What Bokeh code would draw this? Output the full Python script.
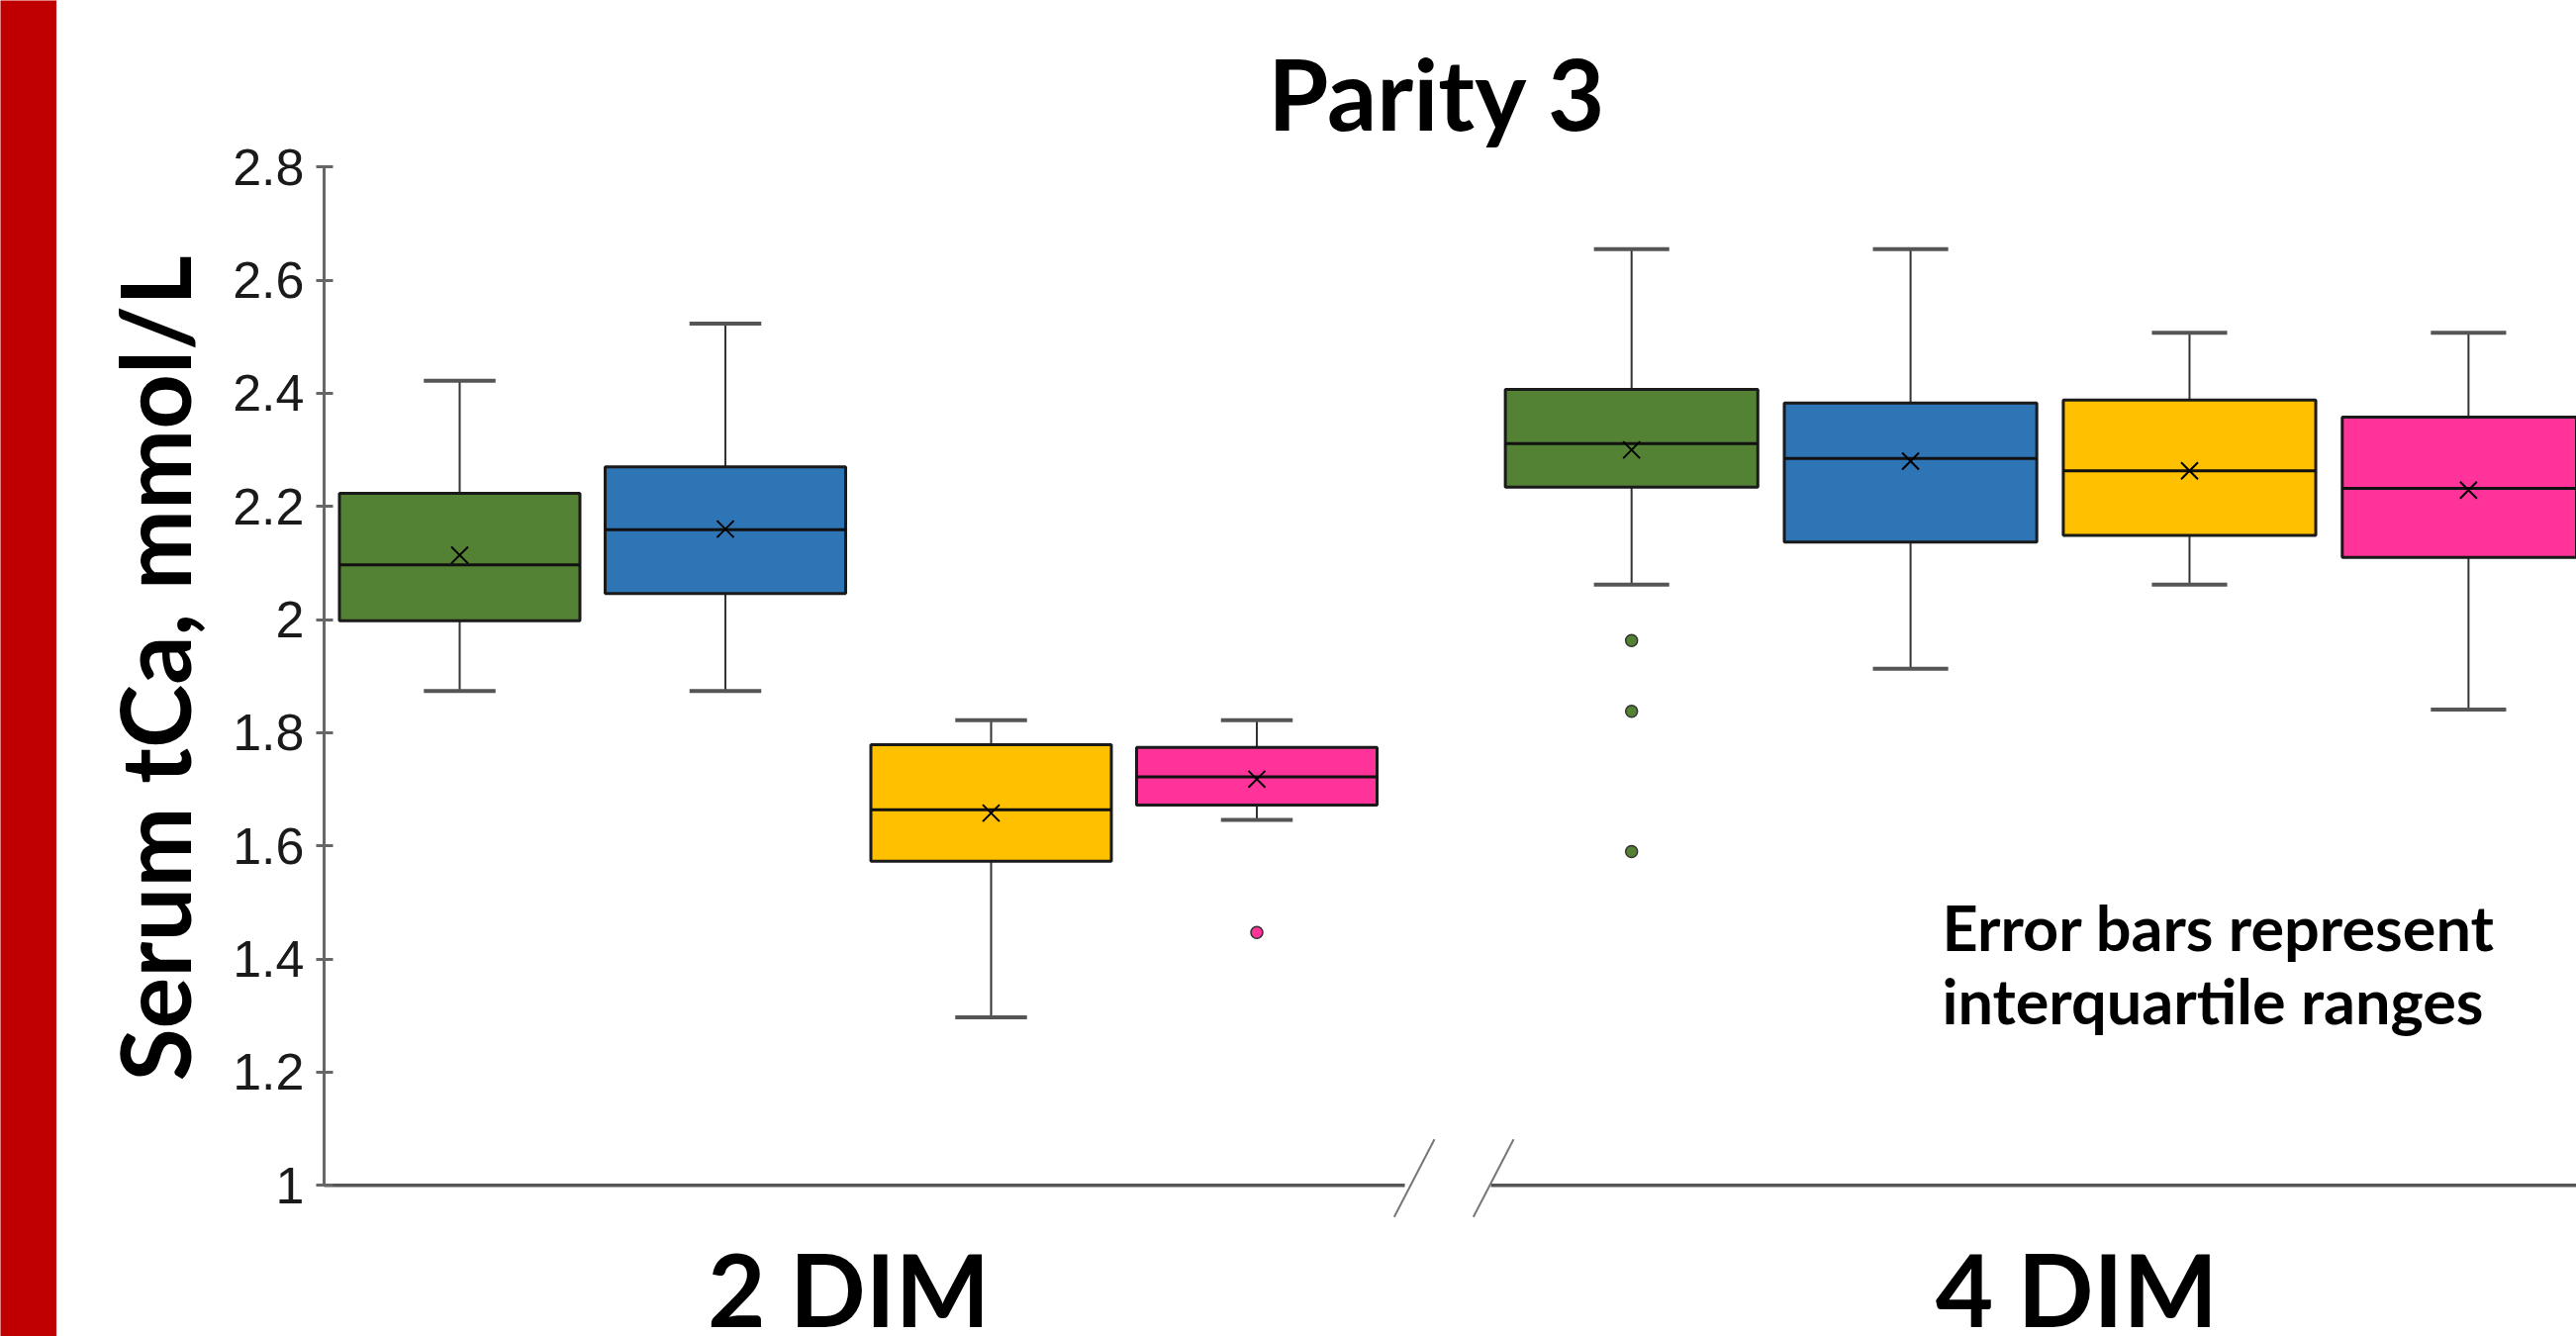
from bokeh.plotting import figure
from bokeh.layouts import row
from bokeh.models import Range1d, FixedTicker, ColumnDataSource
from bokeh.embed import file_html
from bokeh.resources import INLINE
from bokeh.core.properties import value

# ---------------- data ----------------
GROUP_LABELS = ["2 DIM", "4 DIM"]
SERIES_COLORS = ["#548235", "#2E75B6", "#FFC000", "#FF3399"]
SLOTS = [1, 2, 3, 4]

DIM2_LOWER = [1.874, 1.874, 1.297, 1.646]
DIM2_Q1 = [1.998, 2.046, 1.573, 1.672]
DIM2_MEDIAN = [2.097, 2.159, 1.664, 1.722]
DIM2_Q3 = [2.223, 2.270, 1.779, 1.774]
DIM2_UPPER = [2.422, 2.523, 1.822, 1.822]
DIM2_MEAN = [2.114, 2.160, 1.658, 1.718]
DIM2_OUTLIERS = [[], [], [], [1.447]]

DIM4_LOWER = [2.062, 1.913, 2.062, 1.841]
DIM4_Q1 = [2.234, 2.137, 2.149, 2.110]
DIM4_MEDIAN = [2.311, 2.285, 2.263, 2.232]
DIM4_Q3 = [2.407, 2.383, 2.388, 2.358]
DIM4_UPPER = [2.655, 2.655, 2.507, 2.507]
DIM4_MEAN = [2.300, 2.280, 2.263, 2.229]
DIM4_OUTLIERS = [[1.963, 1.838, 1.590], [], [], []]

Y_TICKS = [1.0, 1.2, 1.4, 1.6, 1.8, 2.0, 2.2, 2.4, 2.6, 2.8]
Y_TICK_LABELS = ["1", "1.2", "1.4", "1.6", "1.8", "2", "2.2", "2.4", "2.6", "2.8"]

TITLE = "Parity 3"
Y_LABEL = "Serum tCa, mmol/L"
NOTE_LINES = ["Error bars represent", "interquartile ranges"]

# ---------------- layout / style ----------------
BOX_W = 0.905
CAP_HALF = 0.135
AXIS_X = 0.4898
LEFT_END = 4.557
RIGHT_START = 4.881
H = 1350
FONT = "Lato"

bar = figure(width=57, height=H, output_backend="svg", toolbar_location=None,
             x_axis_location=None, y_axis_location=None,
             min_border=0, background_fill_color="#C00000",
             border_fill_color="#C00000", outline_line_color=None)
bar.grid.visible = False
bar.x_range = Range1d(0, 1)
bar.y_range = Range1d(0, 1)

p = figure(width=2546, height=H, output_backend="svg", toolbar_location=None,
           x_range=Range1d(0.4823, 8.9665), y_range=Range1d(0.7329, 3.0943),
           x_axis_location=None,
           min_border_left=268, min_border_right=0,
           min_border_top=0, min_border_bottom=0)
p.extra_x_ranges = {"dim4": Range1d(-3.6938, 4.3871)}
p.grid.visible = False
p.outline_line_color = None
p.background_fill_color = "white"
p.border_fill_color = "white"

ya = p.yaxis[0]
ya.ticker = FixedTicker(ticks=Y_TICKS)
ya.major_label_overrides = dict(zip(Y_TICKS, Y_TICK_LABELS))
ya.minor_tick_line_color = None
ya.axis_line_color = None
ya.major_tick_line_color = "#666666"
ya.major_tick_line_width = 3
ya.major_tick_out = 6
ya.major_tick_in = 11
ya.major_label_standoff = 12
ya.major_label_text_font = "Liberation Sans"
ya.major_label_text_font_size = "52px"
ya.major_label_text_color = "#1a1a1a"
ya.axis_label = Y_LABEL
ya.axis_label_text_font = FONT
ya.axis_label_text_font_style = "bold"
ya.axis_label_text_font_size = "97px"
ya.axis_label_text_color = "black"
ya.axis_label_standoff = 18

p.segment(x0=[AXIS_X], x1=[AXIS_X], y0=[Y_TICKS[0]], y1=[Y_TICKS[-1]],
          line_color="#666666", line_width=3)


def draw_group(lower, q1, med, q3, upper, mean, outliers, range_name):
    src = ColumnDataSource(dict(
        x=SLOTS, lower=lower, q1=q1, med=med, q3=q3, upper=upper, mean=mean,
        color=SERIES_COLORS,
        xl=[s - BOX_W / 2 for s in SLOTS], xr=[s + BOX_W / 2 for s in SLOTS],
        cl=[s - CAP_HALF for s in SLOTS], cr=[s + CAP_HALF for s in SLOTS],
    ))
    kw = {} if range_name is None else {"x_range_name": range_name}
    p.segment(x0="x", x1="x", y0="q3", y1="upper", source=src,
              line_color="#333333", line_width=2, **kw)
    p.segment(x0="x", x1="x", y0="q1", y1="lower", source=src,
              line_color="#333333", line_width=2, **kw)
    p.segment(x0="cl", x1="cr", y0="upper", y1="upper", source=src,
              line_color="#555555", line_width=4, **kw)
    p.segment(x0="cl", x1="cr", y0="lower", y1="lower", source=src,
              line_color="#555555", line_width=4, **kw)
    p.vbar(x="x", width=BOX_W, bottom="q1", top="q3", source=src,
           fill_color="color", line_color="#1a1a1a", line_width=3, **kw)
    p.segment(x0="xl", x1="xr", y0="med", y1="med", source=src,
              line_color="#111111", line_width=3, **kw)
    p.scatter(x="x", y="mean", source=src, marker="x", size=24,
              line_color="black", line_width=2, **kw)
    ox, oy, oc = [], [], []
    for s, vals, c in zip(SLOTS, outliers, SERIES_COLORS):
        for v in vals:
            ox.append(s); oy.append(v); oc.append(c)
    if ox:
        p.scatter(x=ox, y=oy, fill_color=oc, line_color="#333333",
                  line_width=1.5, size=12, **kw)


draw_group(DIM2_LOWER, DIM2_Q1, DIM2_MEDIAN, DIM2_Q3, DIM2_UPPER, DIM2_MEAN, DIM2_OUTLIERS, None)
draw_group(DIM4_LOWER, DIM4_Q1, DIM4_MEDIAN, DIM4_Q3, DIM4_UPPER, DIM4_MEAN, DIM4_OUTLIERS, "dim4")

# broken x baseline at y = 1 with break marks
base = Y_TICKS[0]
p.segment(x0=[AXIS_X, RIGHT_START], x1=[LEFT_END, 9.3], y0=[base, base], y1=[base, base],
          line_color="#555555", line_width=3.5)
p.segment(x0=[4.6685, 4.9665], y0=[1.0815, 1.0815], x1=[4.517, 4.815], y1=[0.944, 0.944],
          line_color="#777777", line_width=2)

TXT = dict(text_font=value(FONT), text_font_style="bold", text_color="black",
           text_baseline="alphabetic")
p.text(x=[4.68], y=[2.9322], text=[TITLE], text_align="center",
       text_font_size="99px", **TXT)
p.text(x=[2.464], y=[0.8174], text=[GROUP_LABELS[0]], text_align="center",
       text_font_size="101px", **TXT)
p.text(x=[2.595], y=[0.8174], text=[GROUP_LABELS[1]], text_align="center",
       text_font_size="101px", x_range_name="dim4", **TXT)
p.text(x=[2.113, 2.113], y=[1.4563, 1.3274], text=NOTE_LINES, text_align="left",
       text_font_size="63px", x_range_name="dim4", **TXT)

layout = row(bar, p, spacing=0)
open("out.html", "w").write(file_html(layout, INLINE))
